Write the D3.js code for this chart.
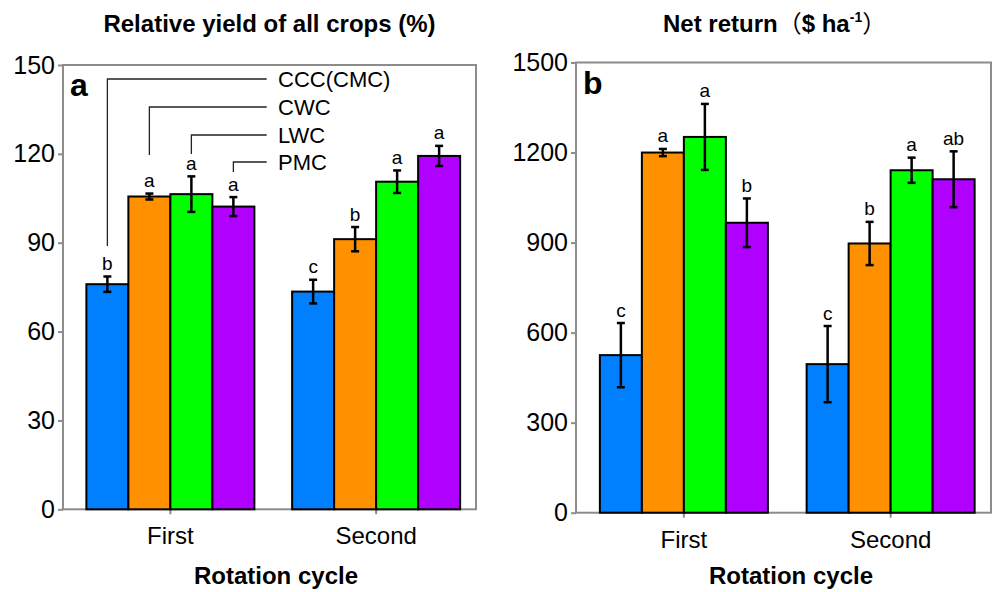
<!DOCTYPE html>
<html><head><meta charset="utf-8">
<script src="https://cdn.jsdelivr.net/npm/d3@7"></script>
<style>
body{margin:0;background:#fff}
svg{display:block}
text{font-family:"Liberation Sans",Arial,Helvetica,sans-serif;fill:#000}
</style>
</head><body>
<svg id="c" width="992" height="592"></svg>
<script>
// ---------- data ----------
const cycles = ["First", "Second"];
const treatments = ["CCC(CMC)", "CWC", "LWC", "PMC"];
const colors = ["#0080ff", "#ff9000", "#00ff00", "#b000ff"];

const yieldTicks = [0, 30, 60, 90, 120, 150];
const yieldFirst = [76, 105.6, 106.4, 102.2];
const yieldSecond = [73.5, 91.2, 110.6, 119.3];
const yieldErrFirst = [2.6, 1.0, 6.0, 3.2];
const yieldErrSecond = [4.0, 4.1, 3.8, 3.4];
const yieldLettersFirst = ["b", "a", "a", "a"];
const yieldLettersSecond = ["c", "b", "a", "a"];

const returnTicks = [0, 300, 600, 900, 1200, 1500];
const returnFirst = [525, 1200, 1252, 966];
const returnSecond = [495, 897, 1141, 1111];
const returnErrFirst = [107, 12, 110, 81];
const returnErrSecond = [127, 72, 42, 93];
const returnLettersFirst = ["c", "a", "a", "b"];
const returnLettersSecond = ["c", "b", "a", "ab"];

// ---------- drawing ----------
const svg = d3.select("#c");
const frameColor = "#8c8c8c";

function buildRows(means, errs, letters) {
  const rows = [];
  cycles.forEach((c, ci) => {
    treatments.forEach((t, ti) => {
      rows.push({cycle: c, trt: t, ti: ti, v: means[ci][ti], e: errs[ci][ti], l: letters[ci][ti]});
    });
  });
  return rows;
}

function drawPanel(cfg) {
  const g = svg.append("g");
  const y = d3.scaleLinear().domain([0, cfg.max]).range([cfg.bottom, cfg.top]);
  const x = d3.scaleBand().domain(cycles).range([cfg.left + 4.5, cfg.right + 3]);
  const xi = d3.scaleBand().domain(treatments).range([-84, 84]);

  // frame
  g.append("rect").attr("x", cfg.left).attr("y", cfg.top)
    .attr("width", cfg.right - cfg.left).attr("height", cfg.bottom - cfg.top)
    .attr("fill", "none").attr("stroke", frameColor).attr("stroke-width", 2);

  // y axis
  const ya = g.append("g").attr("transform", `translate(${cfg.left},0)`)
    .call(d3.axisLeft(y).tickValues(cfg.ticks).tickFormat(d3.format("d"))
      .tickSize(5).tickPadding(3).tickSizeOuter(0));
  ya.select(".domain").remove();
  ya.selectAll(".tick line").attr("stroke", frameColor).attr("stroke-width", 2);
  ya.selectAll(".tick text").style("font-size", "25px").style("font-family", "'Liberation Sans',Arial,sans-serif").attr("fill", "#000");

  // x axis
  const xa = g.append("g").attr("transform", `translate(0,${cfg.bottom})`)
    .call(d3.axisBottom(x).tickSize(5).tickPadding(13).tickSizeOuter(0));
  xa.select(".domain").remove();
  xa.selectAll(".tick line").attr("stroke", frameColor).attr("stroke-width", 2);
  xa.selectAll(".tick text").style("font-size", "24px").style("font-family", "'Liberation Sans',Arial,sans-serif").attr("fill", "#000");

  const rows = buildRows(cfg.means, cfg.errs, cfg.letters);
  const cx = d => x(d.cycle) + x.bandwidth() / 2 + xi(d.trt);

  // bars
  g.append("g").selectAll("rect").data(rows).join("rect")
    .attr("x", d => cx(d)).attr("width", xi.bandwidth())
    .attr("y", d => y(d.v)).attr("height", d => y(0) - y(d.v))
    .attr("fill", d => colors[d.ti]).attr("stroke", "#000").attr("stroke-width", 2);

  // error bars
  const eb = g.append("g").attr("stroke", "#000").attr("stroke-width", 2.5);
  rows.forEach(d => {
    const m = cx(d) + xi.bandwidth() / 2;
    eb.append("line").attr("x1", m).attr("x2", m).attr("y1", y(d.v + d.e)).attr("y2", y(d.v - d.e));
    eb.append("line").attr("x1", m - 4).attr("x2", m + 4).attr("y1", y(d.v + d.e)).attr("y2", y(d.v + d.e));
    eb.append("line").attr("x1", m - 4).attr("x2", m + 4).attr("y1", y(d.v - d.e)).attr("y2", y(d.v - d.e));
  });

  // letters
  g.append("g").selectAll("text").data(rows).join("text")
    .attr("x", d => cx(d) + xi.bandwidth() / 2)
    .attr("y", d => y(d.v + d.e) - 6.5)
    .attr("text-anchor", "middle").style("font-size", "19px")
    .text(d => d.l);

  // panel letter
  g.append("text").attr("x", cfg.left + 7).attr("y", cfg.top + 31)
    .style("font-size", "32px").style("font-weight", "bold").text(cfg.tag);

  // x axis title
  g.append("text").attr("x", cfg.xTitleX).attr("y", 584).attr("text-anchor", "middle")
    .style("font-size", "24px").style("font-weight", "bold").text("Rotation cycle");

  return {x, xi, y, rows, cx, g};
}

// Panel a
const pa = drawPanel({
  left: 63, right: 476, top: 65, bottom: 509.3, max: 150, ticks: yieldTicks,
  means: [yieldFirst, yieldSecond], errs: [yieldErrFirst, yieldErrSecond],
  letters: [yieldLettersFirst, yieldLettersSecond], tag: "a", xTitleX: 276
});
svg.append("text").attr("x", 269.5).attr("y", 32).attr("text-anchor", "middle")
  .style("font-size", "24px").style("font-weight", "bold").text("Relative yield of all crops (%)");

// legend (leader lines from first-cycle bars)
const legRowY = [79, 107, 135, 162];
const legEndY = [246, 155, 154, 172];
const legG = svg.append("g");
treatments.forEach((t, i) => {
  const d = pa.rows[i];
  const m = pa.cx(d) + pa.xi.bandwidth() / 2;
  legG.append("path")
    .attr("d", `M${m},${legEndY[i]}V${legRowY[i]}H266.7`)
    .attr("fill", "none").attr("stroke", "#222").attr("stroke-width", 1.3);
  legG.append("text").attr("x", 278).attr("y", legRowY[i] + 8)
    .style("font-size", "22px").text(t);
});

// Panel b
drawPanel({
  left: 576, right: 991, top: 62.5, bottom: 512.7, max: 1500, ticks: returnTicks,
  means: [returnFirst, returnSecond], errs: [returnErrFirst, returnErrSecond],
  letters: [returnLettersFirst, returnLettersSecond], tag: "b", xTitleX: 791
});
const tb = svg.append("text").attr("x", 663).attr("y", 32)
  .style("font-size", "24px").style("font-weight", "bold");
tb.append("tspan").text("Net return");
tb.append("tspan").style("font-family", "'Noto Sans CJK SC',sans-serif").style("font-weight", "normal").text("（");
tb.append("tspan").text("$ ha");
tb.append("tspan").attr("dy", -10).style("font-size", "14px").text("-1");
tb.append("tspan").attr("dy", 10).style("font-family", "'Noto Sans CJK SC',sans-serif").style("font-weight", "normal").text("）");
</script>
</body></html>
